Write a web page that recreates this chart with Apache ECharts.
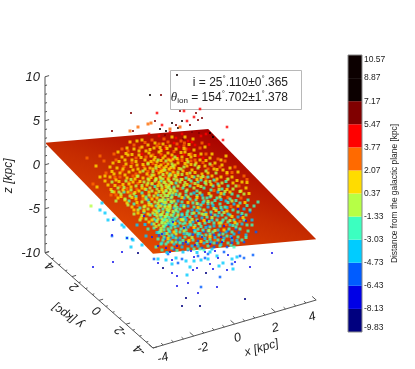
<!DOCTYPE html>
<html><head><meta charset="utf-8">
<style>html,body{margin:0;padding:0;background:#fff}#c{width:415px;height:369px}</style>
<script src="https://cdn.jsdelivr.net/npm/echarts@6/dist/echarts.min.js"></script>
</head><body><div id="c"></div>
<script>
// Colour-bar scale (kpc from the galactic plane)
const barEdges=[-9.83,-8.13,-6.43,-4.73,-3.03,-1.33,0.37,2.07,3.77,5.47,7.17,8.87,10.57];
const barColors=['#00007f','#0000e6','#005cff','#00ccff','#3cffc0','#b6ff46','#ffdc00','#ff6a00','#ff0000','#800000','#0c0000','#0c0000'];
const xTicks=[-4,-2,0,2,4], yTicks=[4,2,0,-2,-4], zTicks=[-10,-5,0,5,10];
const planeZ={left:2.5,top:-1.4,right:-3.1,bottom:0.7};

// Points, as [apparent x, apparent height] in the viewing plane
const navy=[[0.1,-11.6],[1,-11.6],[0.3,-10.8],[3.25,-10.9],[-0.85,-7.8],[1.3,-8.3],[-2.1,-6.3]];
const blue=[[4.6,-6.3],[2.75,-7.2],[3.5,-7.7],[1.5,-7.4],[1.65,-7.9],[2.35,-8],[0.85,-7.8],[0.65,-8],[0.4,-9.3],[1.85,-9.7],[-0.4,-8.3],[-0.15,-8.6],[-0.15,-9.6],[0.9,-10.3],[-3.4,-4.5],[-2.9,-6.2],[-3.35,-7.2],[-4.35,-7.7],[-3.35,-3],[-2.65,-4.8],[-1.1,-7.3],[-0.4,-7],[0.7,-6.7],[1.9,-6.8],[2.4,-6.5],[0.3,-5.2],[1.1,-4.7],[1.5,-5.4],[2.1,-5.2],[-0.7,-5.8],[-0.9,-4.4],[0.2,-3.8],[2.6,-4.8],[0.9,-3.1],[-1.8,-2.6],[2.2,-3.6],[3.3,-3.1],[2.9,-1.9],[-0.5,-6.2],
[0.55,-6.1],[1.25,-6.2],[1.75,-6.1],[-0.15,-5.6],[0.75,-5.5],[2.05,-4.7],[-0.35,-3.2],[1.35,-3.05],[-1.4,-4.7],[-1.1,-5.6]];
const azure=[[3.65,-6.5],[2,-8.7],[1.05,-9.7],[-1.3,-6.9],[-3.4,-4.6],[-2.4,-4.9],[1.25,-6.8],[0.1,-6.9],[0.9,-6.6],[3,-6.6],[3.2,-6.8],[2.6,-7.4],[-0.1,-7.3],[1.1,-5.8],[0.4,-5.4],[2.6,-5.3],[3.2,-5.2],[1.7,-5.7],[2,-4.3],[0.7,-4],[-0.3,-4.6],[-1.2,-3.7],[1.4,-3.6],[2.8,-3.9],[3.5,-2.2],[2.2,-6.2],[1.4,-6.4],[-0.6,-6.4],[0.4,-6],[-0.1,-5],[3.8,-4.2],[0.9,-5.1],[2.4,-4.1],[1.7,-4.5],
[-0.75,-4.85],[-0.3,-5.95],[0.15,-5.35],[0.65,-4.45],[1.2,-4.15],[1.85,-5.3],[2.35,-5.7],[2.95,-4.25],[-0.55,-3.45],[-1.05,-4.55],[0.05,-2.75],[1.55,-2.45],[3.05,-2.55]];
const cyan=[[2.15,-7.3],[2.65,-7.9],[0.5,-7.7],[-0.4,-7.4],[0.35,-8.5],[-2.65,-4.8],[-2.45,-5.7],[-1.1,-6.9],[-3.9,-1.3],[-4,-2],[-3.75,-2.3],[-3.6,-3],[-2.9,-3.5],[-2.8,-3.7],[-2.35,-5],[-1.9,-5.5],[1.05,-7],[1.4,-6.9],[1.95,-7.6],[2.6,-6.9],[0.7,-7.1],[0.3,-7.1],[-0.2,-6.8],[2.85,-6.7],[-0.7,-7],[1.85,-6.6],
[-1.6,-1],[-1.1,-2.2],[-0.8,-3],[-1.4,-3.4],[-0.3,-1.8],[0.2,-0.8],[0.6,-2],[0.3,-3],[-0.1,-3.6],[-0.5,-4.2],[0.9,-1.4],[1.3,-2.3],[1,-3.4],[0.5,-4.4],[1.5,-0.7],[1.8,-1.9],[1.6,-3],[1.4,-4.1],[0.9,-4.6],[2.3,-1.1],[2.4,-2.4],[2.1,-3.2],[1.9,-4],[2.5,-3.5],[2.9,-2.7],[2.7,-1.4],[3.2,-1.9],[3.1,-3.4],[2.7,-4.4],[2.2,-4.8],[1.2,-5.3],[0.6,-5.6],[0.1,-5.7],[-0.3,-5.4],[-0.5,-5],[-0.9,-5.3],[-1,-4.1],[0.1,-2.4],[-0.4,-2.9],[0.8,-2.6],[1.9,-2.6],[2.6,-5],[3.3,-4.5],[3.6,-3],[1.6,-5.9],[0,-4.8],[-0.1,-1.1],[0.4,-1.6],[1.1,-0.5],[1.9,-0.2],[0.7,-0.3],[-0.4,-0.5],[-0.9,-1.4],[1.4,-1.7],[2.1,-2],[1.1,-2.8],[0.4,-3.7],[1.7,-3.6],[2.3,-4.2],[0.9,-5.6],[-0.2,-4.2],[-0.75,-3.6],[-0.1,-3.1],[0.65,-3.2],
[-0.95,-2.75],[-0.65,-2.3],[-0.45,-3.55],[-0.2,-2.05],[0.05,-1.55],[0.25,-2.75],[0.5,-3.45],[0.75,-4.05],[1,-4.35],[1.25,-4.85],[1.55,-5.2],[0.2,-4.35],[0,-5.2],[-0.35,-4.75],[-0.75,-4.35],[-1.15,-4.25],[-1.2,-3.05],[1.75,-4.75],[2.05,-5.45],[2.55,-4.65],[2.85,-5.05],[1.3,-3.75],[0.85,-2.05],[1.15,-1.25],[1.65,-1.55],[2.05,-0.95],[2.35,-1.75],[0.15,-6.2],[0.85,-6.25],[-0.65,-6.25],[1.5,-6.2],[-3.3,-2.9],[-1.7,-4.6],[-2.15,-3.5],[-1.75,-3.45]];
const teal=[[-2.8,-0.2],[-2.3,-1.4],[-1.9,-0.3],[-1.4,0.6],[-1.1,-0.5],[-2,-1.8],[-1.5,-2.5],[-1.6,-3.9],[-0.95,0.9],[-0.5,1.6],[-0.2,0.7],[0.3,1.2],[0.9,0.8],[1.4,1.3],[1.9,0.6],[2.4,0.4],[2.9,-0.6],[3.4,-1],[3.7,-1.6],[3.6,-3.5],[3.4,-4.1],[3.1,-5],[2.9,-5.3],[-0.7,-0.1],[-0.45,-0.8],[-0.15,-0.1],[0.15,0.2],[0.5,0.4],[0.85,-0.1],[1.2,0.2],[1.55,0],[2.1,0.1],[2.6,-0.4],[-0.75,-1],[-0.55,-1.5],[-0.2,-1.4],[0.1,-1.2],[0.5,-0.9],[0.8,-1],[1.2,-1.1],[1.6,-1.3],[2,-1.4],[2.5,-0.9],[3,-1.3],[-0.85,-1.9],[-0.6,-2.2],[-0.3,-2.3],[0,-1.9],[0.35,-2.3],[0.7,-1.7],[1,-1.9],[1.55,-2.2],[2.25,-1.7],[2.65,-2],[3.3,-2.5],[-0.7,-2.7],[-0.45,-3.3],[-0.15,-2.7],[0.15,-2.9],[0.5,-2.7],[0.95,-2.3],[1.35,-2.7],[1.85,-3],[2.3,-2.8],[2.7,-3],[3.2,-3],[-0.9,-3.3],[-0.6,-3.9],[-0.25,-3.7],[0.15,-3.4],[0.55,-3.5],[0.85,-3],[1.25,-3.3],[1.5,-3.7],[2,-3.6],[2.45,-3.9],[3,-3.9],[-0.8,-4],[-0.4,-4.5],[0,-4.2],[0.3,-4],[0.75,-4.2],[1.15,-4],[1.65,-4.2],[2.15,-4.4],[2.6,-4.2],[-0.8,-4.7],[-0.2,-4.8],[0.25,-4.7],[0.65,-5],[1.1,-4.6],[1.5,-4.9],[1.9,-5],[2.4,-5.3],[2.9,-4.7],[-0.7,-5.4],[0,-5.3],[0.4,-5.9],[1,-5.9],[1.4,-5.6],[2,-5.6],[2.7,-5.7],[-1.1,-4.9],[-1.2,-5.7],[-0.9,-6],[-1.3,-2.9],[-1.2,-1.6],[-1,-1],[-0.95,-2.5],[-0.65,-0.6],[-0.3,0.3],[0.55,0.9],[1.05,1],[1.7,1],[2.2,-0.4],
[-0.75,-2.95],[-0.55,-2.75],[-0.35,-2.55],[-0.6,-3.3],[-0.3,-3.1],[-0.8,-3.7],[-0.45,-3.8],[-0.9,-4.4],[-0.55,-4.6],[-0.1,-2.2],[0.1,-2.5],[0.25,-3.3],[0.4,-2.1],[-0.05,-0.6],[0.3,-0.5],[0.65,-1.3],[1.05,-1.5],[1.35,-0.8],[1.85,-0.8],[-0.85,-5],[-0.4,-5.8],[3.5,-2],[3.9,-1.2],[2.85,-3.4],[2.5,-2.5],[0.9,-3.9],[1.3,-4.5],[1.75,-2.5],[2.1,-2.5],[0.05,-3.9],[0.45,-4.5],
[-0.85,-3.05],[-0.65,-2.55],[-0.5,-3.05],[-0.25,-2.85],[-0.7,-3.45],[-0.35,-3.45],[-0.55,-4.1],[-0.2,-4.05],[0,-3.3],[0.2,-3.75],[0.35,-2.55],[0.6,-2.35],[0.75,-3.55],[1.05,-3.65],[1.2,-2.45],[1.45,-3.15],[1.7,-3.3],[1.95,-2.25],[2.15,-3],[2.4,-3.2],[2.65,-3.55],[2.9,-2.2],[3.1,-2.35],[3.35,-1.55],[2.8,-1.05],[2.4,-1.25],[2.05,-1.75],[1.75,-1.05],[1.4,-1.35],[1.15,-0.8],[0.85,-0.55],[0.55,-0.4],[0.2,-1.55],[-0.15,-1.75],[-0.4,-1.25],[-0.75,-1.55],[-1.05,-2.05],[-1.25,-2.45],[-1.45,-1.45],[-1.7,-0.7],[-2.2,-0.65],[-2.55,-1.1],[-1.8,-2.2],[-1.3,-3.8],[-1.05,-4.25],[-0.95,-5.4],[-0.6,-5.2],[-0.2,-5.2],[0.15,-5.05],[0.4,-5.2],[0.85,-5.35],[1.35,-5.15],[1.7,-5.3],[2.15,-5.05],[2.55,-5.55],[3.3,-4.75],[0.7,-5.9],[-0.15,-6.05],[1.2,-6],[0.35,-4.35],[0.9,-4.35],[1.5,-4.4],[1.95,-4.5],[2.35,-4.6],[2.8,-3.7],[3.35,-3.5],[0.7,1.3],[1.25,0.75],[1.65,0.4],[2.3,0.85],[0.05,1.05],[-0.55,0.4],[-1.25,0.35],[-1.7,0.05],[0.3,-0.15],[-0.2,-0.45]];
const lime=[[-4.45,-1.6],[-3.4,0.8],[-3.1,0.2],[-2.7,0.9],[-2.5,-0.6],[-2.2,0.4],[-2.1,1.4],[-1.8,0.8],[-1.7,-0.9],[-1.4,-0.1],[-1.4,1.5],[-1.2,2.2],[-1,1.3],[-0.9,0.3],[-0.75,2],[-0.55,0.9],[-0.4,2.6],[-0.1,1.8],[0.2,2.3],[0.5,1.7],[0.9,2.2],[1.3,1.9],[1.8,1.7],[2.4,1.1],[2.8,0.4],[-1.9,-1.2],[-1.6,-1.9],[-1.25,-1.2],[-1.1,-2.9],[-1.05,-0.15],[-0.8,-0.3],[-0.95,0.5],[-0.7,0.55],[-0.5,0.1],[-0.35,-0.3],[-0.6,-0.55],[-0.85,-0.8],[-0.7,-1.25],[-0.45,-1.15],[-0.95,-1.6],[-0.75,-1.7],[-0.5,-1.8],[-0.85,-2.2],[-0.65,-2.45],[-0.45,-2.5],[-1,-2.5],[-0.9,-2.9],[-0.65,-3.05],[-1.05,-3.5],[-0.85,-3.6],[-0.95,-4.1],[-0.3,1.1],[0,0.8],[0.25,0.75],[-0.1,0.4],[-0.3,-1.1],[0,-0.4],[0.35,0],[0.7,0.2],[1,-0.3],[1.3,0.6],[1.55,-0.6],[-1.25,0.9],[-1.5,0.2],[-1.15,0.1],[-1.3,-0.6],[-1.55,-0.5],[-1.05,-1.1],[-1.2,-2.1],[-1.3,-3.4],[-0.2,-2],[-0.1,-2.5],[0.2,-1.7],[0.7,-2.3],[1.2,-2],[2,-0.7],[0.5,-3.2],[-0.2,-4.4],[2.6,-1.1],[3.2,-0.4],[-0.85,1.1],[-0.55,1.4],[-0.25,1.45],[0.1,1.55],[-0.7,-0.05],[-0.95,-0.55],[-0.6,-0.95],[-0.8,-1.25],[-0.55,-2.05],[-0.75,-2.65],[-1.1,-1.8],[-0.9,-3.25],[-0.45,-0.05],[-1.35,1.85],[-1.85,1.9],[-2.3,-0.4],[-2.95,-0.4],[-3.2,-1.1],[-2.6,-1.5],[-2.3,-2.4],[-2,-3],[-1.7,-2.9],[1.5,2.6],[2.1,0.7],[0.9,1.4],[0.4,2.8],[-0.7,2.9],[-1.1,3],[-0.25,3.3],[-1.6,2.6],
[-0.6,0.25],[-0.3,0.1],[-0.5,-0.3],[-0.75,-0.55],[-0.4,-0.7],[-0.25,-1.6],[-0.5,-1.55],[-0.9,-1.05],[-1.1,-1.35],[-0.65,-1.95],[-0.35,-2.15],[-0.9,-2.45],[-1.15,-2.6],[-0.75,-3.3],[-1.15,-3.15],[-0.95,-3.85],[-0.65,-4.35],[-1.35,-2.3],[-1.55,-1.25],[-1.8,-1.7],[-2.1,-2],[-1.9,-2.55],[-2.75,-0.9],[-2.45,0],[-1.9,0.45],[-1.6,0.7],[-1.2,1.05],[-0.8,0.75],[-0.45,0.75],[-0.15,1],[0.2,0.45],[0.45,1.05],[0.75,0.65],[1.05,0.35],[1.5,0.85],[1.95,0.05],[2.25,-0.15],[2.65,0.1],[3,-0.15],[-3.05,-0.2],[-3.4,-0.15],[0.4,-0.7],[0.85,-1.35],[1.4,-1.15],[1.7,-1.85],[1.1,-2.4],[0.6,-2.95],[1.6,-2.75],[2.2,-2.25],[0.15,-3],[2.5,-3.05],[0.95,-3.35],[1.45,-4.05],[2.05,-3.3],[0.2,-4.1],[0.6,-4.75],[1.75,-4.05],[-0.4,-5.2],[0.05,2.1],[-0.35,2.4],[-0.85,1.55],[-1.6,1.1],[-2.45,1.05],[-2.8,0.25],[0.75,2.5],[1.15,1.35]];
const yellow=[[-0.4,5.3],[0.25,5.3],[0.65,5.1],[1.25,4.3],[1.6,3.6],[2.3,3.4],[1.5,3.2],[1.75,2.7],[2.1,2.5],[2.9,1.8],[2.15,2],[2.6,1.3],[3.1,0.8],[2.65,0.7],[-1.9,5],[-2.5,4.8],[-2.15,4.9],[-1.25,4.7],[-1.6,4.5],[-2.65,4.2],[-3.1,3.8],[-2.6,3.5],[-2.9,3.3],[-3.35,2.7],[-3.5,2.3],[-4.2,2.4],[-3.15,2.2],[-4,1.3],[-3.5,1.3],[-4.15,0.3],[-1.9,4.3],[-1.3,4.2],[-0.85,4.6],[-0.5,4.4],[-2.3,4.1],[-1.7,3.9],[-1.05,3.8],[-0.6,3.7],[-0.2,4.1],[0.25,3.8],[0.7,4],[1.05,3.6],[-2.05,3.5],[-1.45,3.4],[-0.85,3.2],[-0.35,3.1],[0.1,3.3],[0.55,3.3],[1,3],[-2.4,3],[-1.75,3],[-1.15,2.8],[-0.6,2.6],[-0.1,2.7],[0.35,2.4],[0.8,2.7],[1.25,2.4],[1.7,2.1],[-2.7,2.6],[-2.15,2.5],[-1.5,2.2],[-0.95,2.5],[-0.3,2.2],[0.15,1.9],[0.6,2],[-3,1.7],[-2.55,1.8],[-2,1.8],[-1.65,1.6],[-1.05,1.7],[-0.65,1.7],[-0.2,1.3],[1.1,1.6],[1.6,1.4],[2.05,1.3],[-3.2,1],[-2.65,1.2],[-2.25,1.1],[-1.85,1.2],[-1.2,1.15],[-0.75,0.8],[-0.4,0.65],[-3.6,0.5],[-2.85,0.55],[-2.45,0.3],[-1.65,0.5],[-1.05,0.75],[-3.3,-0.2],[-2.6,-0.2],[-2.05,-0.1],[-1.75,0.1],[-0.9,0.05],[-3.1,-0.8],[-2.75,-1],[-2.2,-0.9],[-1.4,-0.9],[-1.05,-1.6],[-2.4,-1.7],[-1.75,-1.6],[-1.4,-1.6],[-2.1,-2.3],[-1.6,-2.4],[-1.4,-3],[1.95,0.4],[2.35,0.05],[3.3,0.2],[3.05,-0.1],[1.3,0.9],[0.85,1.05],[0.1,1.05],[-0.55,-0.3],[-0.7,0.3],[-0.55,0.5],[-0.25,-0.1],[-0.85,-0.2],[-0.9,-1.1],[-0.6,-1.7],[-1.15,-2.3],[-0.35,1.8],[-0.55,2.1],[-0.25,2.5],[-0.7,2.35],[-0.45,2.9],[-0.75,3.4],[-0.4,3.5],[-1.3,3],[-1.6,2.7],[-2.1,2.1],[-2.45,2.35],[-1.3,1.5],[-0.85,1.95],[-1.9,0.2],[-2.35,0.8],[-1.55,1],[-3.75,0.9],[-3.3,1.6],[2.5,2.2],[2.05,3],[1.3,2.95],[0.55,2.55],[0.05,3.75],[0.45,4.55],[-1,4.25],[-2.05,3.9],[-2.75,3],[-3.25,0.45],
[-1.55,3.7],[-1.25,3.25],[-1.95,3.25],[-2.2,2.85],[-1.45,2.85],[-0.95,2.95],[-0.55,3],[-0.15,3.15],[0.35,3.05],[0.75,3.45],[-1.85,2.55],[-1.2,2.45],[-0.8,2.2],[-0.45,2.25],[-0.05,2.15],[0.25,2.65],[-2.35,2],[-1.75,2.1],[-1.35,2.1],[-0.95,1.85],[-0.45,1.5],[-0.1,1.55],[0.35,1.65],[0.75,1.75],[-2.75,1.5],[-2.15,1.35],[-1.45,1.25],[-0.95,1.2],[-0.6,1.1],[-3.05,0.85],[-2.55,0.6],[-2,0.85],[-1.4,0.65],[-1.1,0.45],[-3.45,0.05],[-2.85,0],[-2.25,-0.25],[-1.55,-0.2],[-1.2,-0.3],[-2.95,-0.65],[-2.4,-0.75],[-1.85,-0.6],[-1.15,-0.8],[-2.65,-1.3],[-2.15,-1.25],[-1.55,-1.5],[-2.3,-2],[-1.8,-2.05],[-1.3,-2],[-1.95,-2.8],[-1.55,-3.2],[-1.2,-3.65],[-0.65,4.15],[-0.95,3.95],[-1.5,4.05],[-2.4,3.55],[-2.7,3.65],[-3.05,2.85],[-2.85,2.1],[-3.4,1.85],[-3.75,1.4],[-1.05,2.35],[0.2,4.15],[0.45,3.55],[0.95,2.35],[1.4,1.7],[1.85,2.05],[2.35,1.75],[1.55,0.55],[1.85,1.1],[1.05,1.25],[0.6,1.35],[0.35,0.55],[0.9,0.45],[2.85,0.95],[3.35,0.75],[3.45,-0.35],[2.5,-0.2],[2.05,-0.35],[1.45,-0.35],[0.85,-0.75],[0.1,-0.75],[0.4,-1.25],[0.9,-1.75],[1.3,-2.45],[1.8,-2.05],[2.35,-2.1],[2.9,-1.6],[3.25,-1.25],[2.6,-2.65],[1.95,-3.3],[1.2,-3.05],[0.7,-3.75],[0.05,-2.95],[-0.25,-3.35],[1.5,-4.65],[2.2,-4],[2.75,-3.25],[3.15,-2.75],[0.45,-5.05],[1.05,-5.15],[-0.6,-4.85],[-0.3,-4.2]];
const orange=[[-2.5,5.9],[-1.6,6.6],[-1.45,6.7],[-2.1,6.3],[0,6.3],[-0.5,6.1],[0.2,4.4],[0.22,4.7],[0.3,4.1],[0.05,4.9],[-4.65,3.2],[-4,3.4],[-3.3,3.6],[-3.8,2.9],[-4.35,0.6],[-2.9,4.1],[-2.3,4.5],[-1.4,5],[-0.8,5.1],[-1.05,4.6],[-0.6,4.8],[1.1,4.7],[-0.15,4.6],[0.55,3.6],[1.3,3.6],[1.9,3.1],[1,4.2],[2.25,2.9],[2.75,2.3],[3.2,1.4],[-2,4.2],[-2.6,3.9],[-3.2,3],[-2.4,2.7],[-1.35,3.5],[-0.95,3.6],[-0.6,3.1],[0.75,3],[0.35,2.8],[-3,1.3],[-3.7,1.7],[-3.45,-0.5],[-2.9,1.9],[-2.2,1.6],[-1.35,2.65],[-1.8,2.35],[2.35,1.6],[1.4,2.1],[-0.95,2.1],[-0.1,3],[-0.8,2.7],[-0.5,2],[-0.85,1.6],[-0.55,1.15],[-0.15,0.95],[2.95,0.4],[-1.6,1.85],[-2.55,0.75],[-2.1,0.65],[-3,0.35],
[-1.75,4.75],[-1.15,4.4],[-0.7,4.35],[-0.3,3.85],[0.1,2.95],[0.55,2.9],[1.15,2.75],[1.6,2.45],[2,2.3],[2.6,1.75],[3.35,1.05],[2.35,1.05],[1.8,0.85],[-1.7,3.3],[-2.2,3.2],[-2.8,2.35],[-3.25,1.25],[-2.35,1.4],[-1.15,1.95],[-0.75,1.35],[-0.25,1.7],[0.4,1.35],[1.3,1.25],[-1.55,1.4],[-1,1],[-2.15,0.05],[-2.65,0.15],[-3.2,-0.5],[-2.45,-0.35],[-1.85,-0.95],[-2.1,-1.55],[-1.5,-0.65],[0.05,0.15],[0.6,0.7],[1.7,-0.05],[2.4,-0.75],[3.05,-0.8],[1.15,-1.35],[0.6,-1.1],[1.6,-2.35],[2.55,-1.65],[2.3,-3.45],[0.35,-3.45],[1.75,-5.05],[0.85,-4.1],[3,-3.15]];
const red=[[-1.15,7.7],[0.2,7.9],[1,8.1],[2.35,6.3],[2.15,5],[-2.5,4.8],[-0.9,6.5],[0.35,6.9],[0.7,7.3],[-0.2,5.2],[0.1,5.6],[0.4,4.9],[1.05,5.4],[0.75,4.5],[1.3,5.6],[-0.75,4.1],[-1.05,5.4],[-0.5,5.8],[-0.3,4.7],[-0.1,3.4],[0.45,4.1],[-1.55,5.6],[0.95,3.4],[0.6,4.8],[-0.05,4.3],[-0.95,3.5],[-0.45,3.25],[0.2,3.55],[1.45,4.55],[-0.65,2.85],[-1.9,3.6],[1.15,3.2]];
const darkred=[[-0.95,9.5],[-2.45,7.7],[-1.25,6.9],[-3.4,5.9],[-2.35,5.9],[0,7.9],[1.1,7.2],[0.9,7],[0.8,7.7],[0.5,6.5],[-0.2,6.5],[0.6,5.8],[1.6,5.5],[0.95,5.7],[0.15,5.1],[-0.75,5.5]];
const black=[[-1.5,9.5],[-0.15,11.5],[0.1,6.9],[-0.4,6.7],[1.65,5.3],[-1,6.1],[-0.1,6.2],[-0.7,5.9],[1.5,5.7]];

// Viewing projection of the 3D box onto the viewing plane
const P={ux:1.02,uy:-0.675,uz:0,u0:0.03,vx:0.6,vy:1.19,vz:0.88,v0:0.16};
const proj=(x,y,z)=>[P.ux*x+P.uy*y+P.uz*z+P.u0,P.vx*x+P.vy*y+P.vz*z+P.v0];

const FONT='"Liberation Sans",Helvetica,Arial,sans-serif', AXC='#555', TXT='#222';
function seg(api,a,b,w,col){const p=api.coord(a),q=api.coord(b);
 return {type:'line',shape:{x1:p[0],y1:p[1],x2:q[0],y2:q[1]},style:{stroke:col||AXC,lineWidth:w||1}};}
function lab(api,at,dx,dy,t,rot,size,style){const p=api.coord(at);
 return {type:'text',x:p[0]+dx,y:p[1]+dy,rotation:rot||0,style:{text:t,align:'center',verticalAlign:'middle',fill:TXT,font:(style||'italic')+' '+(size||12.5)+'px '+FONT}};}

function planeItem(params,api){
 const L=api.coord(proj(-4,4,planeZ.left)),T=api.coord(proj(4,4,planeZ.top)),
       R=api.coord(proj(4,-4,planeZ.right)),B=api.coord(proj(-4,-4,planeZ.bottom));
 let nx=-(R[1]-L[1]),ny=R[0]-L[0];const n=Math.hypot(nx,ny);nx/=n;ny/=n;
 const d=(B[0]-T[0])*nx+(B[1]-T[1])*ny;
 return {type:'polygon',shape:{points:[L,T,R,B]},style:{
   fill:new echarts.graphic.LinearGradient(T[0],T[1],T[0]+nx*d,T[1]+ny*d,
     [{offset:0,color:'#a60000'},{offset:0.5,color:'#c62c00'},{offset:1,color:'#e44a00'}],true)}};
}
const xOff=[[10,10],[9,12],[3,14],[0,16],[-4,17]], yOff=[[5,13],[2,10],[-2,10],[-5,7],[-13,2]];
function axesItem(params,api){
 const kids=[];
 kids.push(seg(api,proj(-4,4,-10),proj(-4,4,10),2,'#a8a8a8'));
 kids.push(seg(api,proj(-4,4,-10),proj(-4,-4,-10)));
 kids.push(seg(api,proj(-4,-4,-10),proj(4,-4,-10)));
 for(let z=-10;z<=10;z++){const M=z%5===0;kids.push(seg(api,proj(-4,4,z),proj(M?-3.8:-3.9,4,z)));}
 for(let i=-4;i<=4;i+=0.5){const M=i%2===0;
   kids.push(seg(api,proj(i,-4,-10),proj(i,M?-3.7:-3.85,-10)));
   kids.push(seg(api,proj(-4,i,-10),proj(M?-3.8:-3.9,i,-10)));}
 zTicks.forEach(z=>{const p=api.coord(proj(-4,4,z));
   kids.push({type:'text',x:p[0]-5,y:p[1]+1,style:{text:String(z),align:'right',verticalAlign:'middle',fill:TXT,font:'italic 13px '+FONT}});});
 xTicks.forEach((x,i)=>kids.push(lab(api,proj(x,-4,-10),xOff[i][0],xOff[i][1],String(x),0.28,12.5)));
 yTicks.forEach((y,i)=>kids.push(lab(api,proj(-4,y,-10),yOff[i][0],yOff[i][1],String(y),Math.PI*0.78,12.5)));
 kids.push(lab(api,proj(0,-4,-10),27,24,'x [kpc]',0.28,12));
 kids.push(lab(api,proj(-4,0,-10),-31,15,'y [kpc]',Math.PI*0.81,12));
 const zp=api.coord(proj(-4,4,0));
 kids.push({type:'text',x:zp[0]-36,y:zp[1]+11,rotation:Math.PI/2,style:{text:'z [kpc]',align:'center',verticalAlign:'middle',fill:TXT,font:'italic 12px '+FONT}});
 return {type:'group',children:kids};
}
const pts=(name,data,color,size)=>({type:'scatter',name,data,xAxisIndex:0,yAxisIndex:0,symbol:'rect',symbolSize:size||3,
  itemStyle:{color},silent:true,animation:false,z:4,large:false});

const legendRich={t:{font:'12px '+FONT,fill:TXT,lineHeight:15},
  d:{font:'8px '+FONT,fill:TXT,verticalAlign:'top',lineHeight:9},
  th:{font:'italic 13px "Liberation Serif",serif',fill:TXT,lineHeight:15},
  s:{font:'8px '+FONT,fill:TXT,verticalAlign:'bottom',lineHeight:9}};
const chart=echarts.init(document.getElementById('c'),null,{renderer:'canvas'});
chart.setOption({
 animation:false,backgroundColor:'#fff',textStyle:{fontFamily:FONT},
 grid:[{left:0,top:0,width:415,height:369,show:false},
       {left:348,top:55,width:14,height:277,show:true,borderColor:'#8a8a8a',borderWidth:1,backgroundColor:'transparent',z:5}],
 xAxis:[{type:'value',min:-9,max:11.75,show:false,gridIndex:0},
        {type:'value',min:0,max:1,show:false,gridIndex:1}],
 yAxis:[{type:'value',min:-17.9,max:19,show:false,gridIndex:0},
        {type:'value',gridIndex:1,min:-9.83,max:10.57,position:'right',
         axisLine:{show:false},axisTick:{show:false},splitLine:{show:false},
         name:'Distance from the galactic plane [kpc]',nameLocation:'middle',nameRotate:90,nameGap:29,
         nameTextStyle:{fontSize:8.4,color:TXT,fontFamily:FONT},
         axisLabel:{customValues:barEdges,formatter:v=>v.toFixed(2),fontSize:8.5,color:TXT,margin:2,fontFamily:FONT,
           verticalAlignMinLabel:'bottom',verticalAlignMaxLabel:'top',showMinLabel:true,showMaxLabel:true}}],
 graphic:[
  {type:'rect',left:170,top:70,shape:{width:131,height:39},style:{fill:'#fff',stroke:'#b8b8b8',lineWidth:1},silent:true},
  {type:'text',x:288,y:75,style:{text:'{t|i = 25}{d|°}{t|.110±0}{d|°}{t|.365}',align:'right',verticalAlign:'top',rich:legendRich},silent:true},
  {type:'text',x:288,y:90,style:{text:'{th|θ}{s|ion}{t| = 154}{d|°}{t|.702±1}{d|°}{t|.378}',align:'right',verticalAlign:'top',rich:legendRich},silent:true}
 ],
 series:[
  {type:'custom',name:'plane',xAxisIndex:0,yAxisIndex:0,renderItem:planeItem,data:[[0,0]],silent:true,z:2,clip:false},
  {type:'custom',name:'axes',xAxisIndex:0,yAxisIndex:0,renderItem:axesItem,data:[[0,0]],silent:true,z:3,clip:false},
  pts('7.17+',black,barColors[11],2),
  pts('5.47 to 7.17',darkred,barColors[9],2),
  pts('3.77 to 5.47',red,barColors[8],2.6),
  pts('2.07 to 3.77',orange,barColors[7]),
  pts('-6.43 to -4.73',azure,barColors[2],2.6),
  pts('-4.73 to -3.03',cyan,barColors[3]),
  pts('-3.03 to -1.33',teal,barColors[4]),
  pts('0.37 to 2.07',yellow,barColors[6]),
  pts('-1.33 to 0.37',lime,barColors[5]),
  pts('-8.13 to -6.43',blue,'#1a1aee',2),
  pts('-9.83 to -8.13',navy,barColors[0],2),
  {type:'custom',name:'colour bar',xAxisIndex:1,yAxisIndex:1,silent:true,z:4,
   data:barColors.map((c,i)=>[0,barEdges[i],1,barEdges[i+1]]),
   renderItem:(p,api)=>{const a=api.coord([0,api.value(3)]),b=api.coord([1,api.value(1)]);
     return {type:'rect',shape:{x:a[0],y:a[1],width:b[0]-a[0],height:b[1]-a[1]},style:{fill:barColors[p.dataIndex]}};}}
 ]
});
</script></body></html>
